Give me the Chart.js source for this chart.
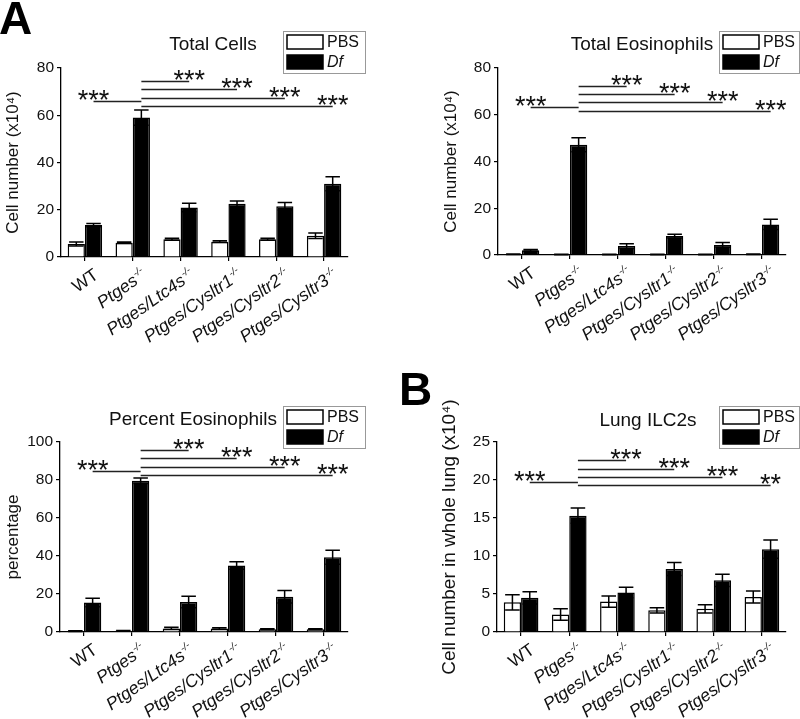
<!DOCTYPE html>
<html>
<head>
<meta charset="utf-8">
<script src="https://cdn.jsdelivr.net/npm/chart.js@4.4.1/dist/chart.umd.min.js"></script>
<style>
body { margin: 0; background: #fff; width: 800px; height: 719px; position: relative; overflow: hidden; font-family: "Liberation Sans", Arial, sans-serif; }
canvas { position: absolute; }
.letter { position: absolute; font-weight: bold; font-size: 46px; line-height: 1; color: #000; }
</style>
</head>
<body>
<canvas id="c1" width="400" height="360" style="left:0;top:0"></canvas>
<canvas id="c2" width="400" height="360" style="left:400px;top:0"></canvas>
<canvas id="c3" width="400" height="359" style="left:0;top:360px"></canvas>
<canvas id="c4" width="400" height="359" style="left:400px;top:360px"></canvas>
<div class="letter" style="left:-1px;top:-5px">A</div>
<div class="letter" style="left:399px;top:366px">B</div>
<script>
var groups = ['WT', 'Ptges-/-', 'Ptges/Ltc4s-/-', 'Ptges/Cysltr1-/-', 'Ptges/Cysltr2-/-', 'Ptges/Cysltr3-/-'];
var seriesNames = ['PBS', 'Df'];

// Total Cells
var cellsPBS = [5.5, 6.0, 7.5, 6.5, 7.5, 9.0];
var cellsPBSErr = [0.8, 0.3, 0.4, 0.4, 0.4, 1.2];
var cellsDf = [13.5, 59, 21, 22.5, 21.5, 31];
var cellsDfErr = [0.7, 3.2, 1.8, 1.2, 1.6, 3.0];
var cellsSig = [66, 74.7, 71, 67.3, 63.8];
var cellsStars = ['***', '***', '***', '***', '***'];
var cellsTicks = [0, 20, 40, 60, 80];

// Total Eosinophils
var eosPBS = [0.3, 0.2, 0.2, 0.2, 0.2, 0.3];
var eosPBSErr = [0.1, 0.1, 0.1, 0.1, 0.1, 0.1];
var eosDf = [2.0, 47.2, 3.8, 8.1, 4.3, 13.1];
var eosDfErr = [0.4, 3.0, 1.0, 0.8, 1.0, 2.2];
var eosSig = [63.4, 72.4, 68.9, 65.3, 61.8];
var eosStars = ['***', '***', '***', '***', '***'];
var eosTicks = [0, 20, 40, 60, 80];

// Percent Eosinophils
var pctPBS = [0.5, 0.6, 1.9, 1.8, 1.4, 1.4];
var pctPBSErr = [0.2, 0.2, 0.6, 0.5, 0.3, 0.3];
var pctDf = [15.5, 79.6, 15.8, 35.0, 18.5, 39.3];
var pctDfErr = [2.2, 1.4, 3.0, 2.0, 3.3, 3.7];
var pctSig = [85, 96, 91.5, 87.1, 82.7];
var pctStars = ['***', '***', '***', '***', '***'];
var pctTicks = [0, 20, 40, 60, 80, 100];

// Lung ILC2s
var ilcPBS = [3.9, 2.3, 4.0, 2.85, 3.05, 4.6];
var ilcPBSErr = [1.0, 0.75, 0.75, 0.35, 0.55, 0.8];
var ilcDf = [4.5, 15.3, 5.2, 8.3, 6.8, 10.9];
var ilcDfErr = [0.8, 1.0, 0.7, 0.85, 0.8, 1.2];
var ilcSig = [19.8, 22.6, 21.5, 20.4, 19.3];
var ilcStars = ['***', '***', '***', '***', '**'];
var ilcTicks = [0, 5, 10, 15, 20, 25];

var FONT = '"Liberation Sans", Arial, sans-serif';

// error bars, significance lines, x labels, title and legend
var panelPlugin = {
    id: 'panel',
    afterDatasetsDraw: function (chart) {
        var ctx = chart.ctx, y = chart.scales.y;
        ctx.save();
        ctx.strokeStyle = '#000';
        ctx.lineWidth = 1.5;
        chart.data.datasets.forEach(function (ds, i) {
            chart.getDatasetMeta(i).data.forEach(function (bar, j) {
                var v = ds.data[j], e = ds.errors[j];
                var top = y.getPixelForValue(v + e), bot = y.getPixelForValue(v - e);
                var cap = bar.width * 0.42;
                ctx.beginPath();
                ctx.moveTo(bar.x, top); ctx.lineTo(bar.x, bot);
                ctx.moveTo(bar.x - cap, top); ctx.lineTo(bar.x + cap, top);
                ctx.moveTo(bar.x - cap, bot); ctx.lineTo(bar.x + cap, bot);
                ctx.stroke();
            });
        });
        ctx.restore();
    },
    afterDraw: function (chart, args, o) {
        var ctx = chart.ctx, x = chart.scales.x, y = chart.scales.y;
        var df = chart.getDatasetMeta(1).data;
        ctx.save();

        // significance lines
        ctx.strokeStyle = '#222';
        ctx.lineWidth = 1.3;
        ctx.fillStyle = '#111';
        ctx.font = '27px ' + FONT;
        ctx.textAlign = 'center';
        ctx.textBaseline = 'alphabetic';
        o.sig.forEach(function (lv, k) {
            var py = Math.round(y.getPixelForValue(lv)) + 0.5;
            var x0 = k === 0 ? df[0].x : df[1].x;
            var x1 = k === 0 ? df[1].x : df[k + 1].x;
            ctx.beginPath(); ctx.moveTo(x0, py); ctx.lineTo(x1, py); ctx.stroke();
            ctx.fillText(o.stars[k], k === 0 ? x0 : x1, py + 7);
        });

        // x labels
        ctx.fillStyle = '#111';
        chart.data.labels.forEach(function (lab, i) {
            var cx = x.getPixelForValue(i);
            var sup = lab.slice(-3) === '-/-' ? '-/-' : '';
            var main = sup ? lab.slice(0, -3) : lab;
            ctx.save();
            ctx.translate(cx + 6, x.top + 8);
            ctx.rotate(-35 * Math.PI / 180);
            ctx.textBaseline = 'alphabetic';
            ctx.textAlign = 'right';
            var sw = 0;
            if (sup) {
                ctx.font = 'italic 10px ' + FONT;
                sw = ctx.measureText(sup).width + 1;
                ctx.fillText(sup, 0, 8);
            }
            ctx.font = (main === 'WT' ? '' : 'italic ') + '17.5px ' + FONT;
            ctx.fillText(main, -sw, 15);
            ctx.restore();
        });

        // title
        ctx.font = '19px ' + FONT;
        ctx.textAlign = 'center';
        ctx.textBaseline = 'middle';
        ctx.fillText(o.title, o.titleX, o.titleY);

        // legend box
        var b = o.legend;
        ctx.strokeStyle = '#999';
        ctx.lineWidth = 1;
        ctx.strokeRect(b[0] + 0.5, b[1] + 0.5, b[2], b[3]);
        chart.data.datasets.forEach(function (ds, i) {
            var sy = b[1] + 4 + i * 20;
            ctx.fillStyle = ds.backgroundColor;
            ctx.fillRect(b[0] + 4, sy, 36, 14);
            ctx.strokeStyle = '#000';
            ctx.lineWidth = 1.5;
            ctx.strokeRect(b[0] + 4, sy, 36, 14);
            ctx.fillStyle = '#111';
            ctx.font = (i === 1 ? 'italic ' : '') + '16px ' + FONT;
            ctx.textAlign = 'left';
            ctx.fillText(ds.label, b[0] + 44, sy + 8);
        });
        ctx.restore();
    }
};

function makeChart(id, o) {
    return new Chart(document.getElementById(id), {
        type: 'bar',
        data: {
            labels: groups,
            datasets: [
                { label: seriesNames[0], data: o.pbs, errors: o.pbsErr, backgroundColor: '#fff', borderColor: '#000', borderWidth: 1.5 },
                { label: seriesNames[1], data: o.df, errors: o.dfErr, backgroundColor: '#000', borderColor: '#000', borderWidth: 1.5 }
            ]
        },
        options: {
            responsive: false,
            animation: false,
            layout: { padding: o.pad },
            datasets: { bar: { categoryPercentage: 0.72, barPercentage: 1.0 } },
            scales: {
                x: {
                    offset: true,
                    grid: { offset: false, drawOnChartArea: false, tickLength: 4, color: '#000', lineWidth: 1.2 },
                    border: { color: '#000', width: 1.3 },
                    ticks: { display: false },
                    afterFit: function (s) { s.height = o.xh; }
                },
                y: {
                    min: o.ticks[0],
                    max: o.ticks[o.ticks.length - 1],
                    afterBuildTicks: function (s) { s.ticks = o.ticks.map(function (v) { return { value: v }; }); },
                    grid: { drawOnChartArea: false, tickLength: 4, color: '#000', lineWidth: 1.2 },
                    border: { color: '#000', width: 1.3 },
                    ticks: { color: '#111', padding: 3, font: { family: FONT, size: 15.5 } },
                    title: { display: true, text: o.ytitle, color: '#111', font: { family: FONT, size: o.ytSize }, padding: { top: 3, bottom: 0 } },
                    afterFit: function (s) { s.width = o.yw; }
                }
            },
            plugins: {
                legend: { display: false },
                tooltip: { enabled: false },
                panel: { sig: o.sig, stars: o.stars, title: o.title, titleX: o.titleX, titleY: o.titleY, legend: o.legend }
            }
        },
        plugins: [panelPlugin]
    });
}

makeChart('c1', {
    pbs: cellsPBS, pbsErr: cellsPBSErr, df: cellsDf, dfErr: cellsDfErr, sig: cellsSig, stars: cellsStars, ticks: cellsTicks,
    ytitle: 'Cell number (x10\u2074)', ytSize: 17, title: 'Total Cells', titleX: 213, titleY: 45, legend: [283, 31, 82, 42],
    pad: { left: 0, top: 68, right: 52, bottom: 0 }, yw: 61, xh: 103
});
makeChart('c2', {
    pbs: eosPBS, pbsErr: eosPBSErr, df: eosDf, dfErr: eosDfErr, sig: eosSig, stars: eosStars, ticks: eosTicks,
    ytitle: 'Cell number (x10\u2074)', ytSize: 17, title: 'Total Eosinophils', titleX: 242, titleY: 45, legend: [319, 31, 80, 42],
    pad: { left: 38, top: 68, right: 14, bottom: 0 }, yw: 60, xh: 105
});
makeChart('c3', {
    pbs: pctPBS, pbsErr: pctPBSErr, df: pctDf, dfErr: pctDfErr, sig: pctSig, stars: pctStars, ticks: pctTicks,
    ytitle: 'percentage', ytSize: 17, title: 'Percent Eosinophils', titleX: 193, titleY: 60, legend: [283, 46, 82, 42],
    pad: { left: 0, top: 82, right: 52, bottom: 0 }, yw: 60, xh: 87
});
makeChart('c4', {
    pbs: ilcPBS, pbsErr: ilcPBSErr, df: ilcDf, dfErr: ilcDfErr, sig: ilcSig, stars: ilcStars, ticks: ilcTicks,
    ytitle: 'Cell number in whole lung (x10\u2074)', ytSize: 19, title: 'Lung ILC2s', titleX: 248, titleY: 61, legend: [319, 46, 80, 42],
    pad: { left: 35, top: 82, right: 14, bottom: 0 }, yw: 62, xh: 87
});
</script>
</body>
</html>
